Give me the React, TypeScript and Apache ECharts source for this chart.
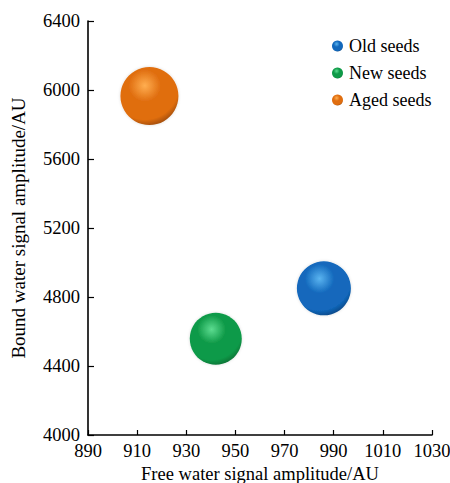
import React, { useEffect, useRef } from "react";
import * as echarts from "echarts";

const seriesNames = ["Old seeds", "New seeds", "Aged seeds"];
const freeWater = [986, 942, 915];
const boundWater = [4850, 4558, 5965];
const bubbleSizes = [54, 52, 58];
const baseColors = ["#1268bc", "#0f9a48", "#e06e10"];
const lightColors = ["#5ab4f0", "#5cdc90", "#ffae50"];
const darkColors = ["#083466", "#065a2a", "#7a3804"];

const xTicks = { min: 890, max: 1030, interval: 20 };
const yTicks = { min: 4000, max: 6400, interval: 400 };

function sphere(i: number) {
  return new echarts.graphic.RadialGradient(0.42, 0.32, 0.78, [
    { offset: 0, color: lightColors[i] },
    { offset: 0.35, color: baseColors[i] },
    { offset: 0.75, color: baseColors[i] },
    { offset: 1, color: darkColors[i] },
  ]);
}

export default function App() {
  const ref = useRef<HTMLDivElement>(null);
  useEffect(() => {
    if (!ref.current) return;
    const chart = echarts.init(ref.current, null, { renderer: "svg" });
    const font = "'Liberation Serif', 'Times New Roman', serif";
    chart.setOption({
      animation: false,
      backgroundColor: "#ffffff",
      textStyle: { fontFamily: font },
      grid: { left: 88, right: 18, top: 21, bottom: 48, containLabel: false, outerBoundsMode: "none" },
      legend: {
        data: seriesNames.map((n, i) => ({
          name: n,
          icon: "circle",
          itemStyle: { color: sphere(i), opacity: 1 },
        })),
        orient: "vertical",
        left: 327,
        top: 32,
        itemWidth: 11,
        itemHeight: 11,
        itemGap: 9,
        textStyle: { fontFamily: font, fontSize: 18, color: "#000", lineHeight: 18, padding: [0, 0, 0, 1] },
      },
      xAxis: {
        type: "value",
        min: xTicks.min,
        max: xTicks.max,
        interval: xTicks.interval,
        splitLine: { show: false },
        name: "Free water signal amplitude/AU",
        nameLocation: "middle",
        nameGap: 26,
        nameTextStyle: { color: "#000", fontSize: 18.5, fontFamily: font, lineHeight: 19 },
        axisLine: { lineStyle: { color: "#000", width: 1.6 } },
        axisTick: { inside: true, length: 5, lineStyle: { color: "#000", width: 1.2 } },
        axisLabel: { color: "#000", fontSize: 18.5, fontFamily: font, margin: 6, formatter: (v: number) => String(v) },
      },
      yAxis: {
        type: "value",
        min: yTicks.min,
        max: yTicks.max,
        interval: yTicks.interval,
        splitLine: { show: false },
        name: "Bound water signal amplitude/AU",
        nameLocation: "middle",
        nameGap: 60,
        nameTextStyle: { color: "#000", fontSize: 19, fontFamily: font },
        axisLine: { show: true, lineStyle: { color: "#000", width: 1.6 } },
        axisTick: { show: true, inside: true, length: 6, lineStyle: { color: "#000", width: 1.2 } },
        axisLabel: { color: "#000", fontSize: 18.5, fontFamily: font, margin: 8, formatter: (v: number) => String(v) },
      },
      series: seriesNames.map((n, i) => ({
        name: n,
        type: "scatter",
        symbolSize: bubbleSizes[i],
        data: [[freeWater[i], boundWater[i]]],
        itemStyle: {
          color: sphere(i),
          opacity: 1,
          shadowColor: "rgba(0,0,0,0.15)",
          shadowBlur: 3,
        },
      })),
    });
    return () => chart.dispose();
  }, []);
  return <div ref={ref} style={{ width: 450, height: 483, position: "absolute", left: 0, top: 0 }} />;
}
